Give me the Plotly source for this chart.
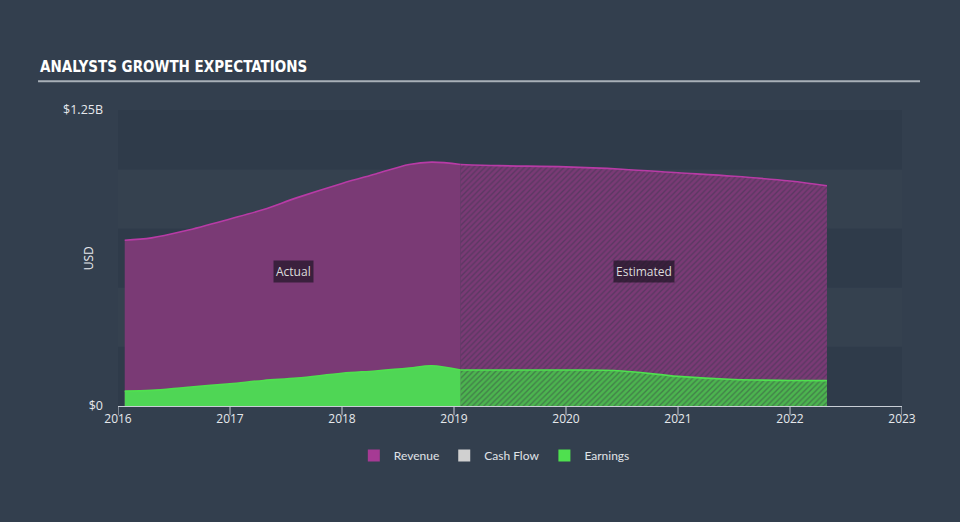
import plotly.graph_objects as go

actual_x = [2016.06, 2016.3, 2016.6, 2017.0, 2017.3, 2017.6, 2018.0, 2018.3, 2018.6, 2018.8, 2019.06]
revenue_actual = [0.70, 0.71, 0.74, 0.79, 0.83, 0.88, 0.94, 0.98, 1.02, 1.03, 1.02]
earnings_actual = [0.063, 0.066, 0.078, 0.094, 0.108, 0.118, 0.138, 0.148, 0.160, 0.170, 0.152]

est_x = [2019.06, 2019.4, 2020.0, 2020.5, 2021.0, 2021.5, 2022.0, 2022.33]
revenue_est = [1.02, 1.015, 1.01, 1.0, 0.985, 0.97, 0.95, 0.93]
earnings_est = [0.152, 0.152, 0.152, 0.148, 0.125, 0.112, 0.108, 0.107]

year_ticks = [2016, 2017, 2018, 2019, 2020, 2021, 2022, 2023]
y_ticks = [0, 1.25]
y_tick_labels = ["$0", "$1.25B"]

legend_names = ["Revenue", "Cash Flow", "Earnings"]
legend_colors = ["#a63a94", "#d0d0d0", "#4fe04f"]

BG = "#333f4e"
REV_FILL = "#7a3a75"
REV_LINE = "#b83ba6"
EARN_FILL = "#4fd655"
EARN_LINE = "#4fe04f"
AXIS = "#c9ced6"
FONT = "Open Sans, sans-serif"

fig = go.Figure()

fig.add_trace(go.Scatter(x=actual_x, y=revenue_actual, mode="lines", line=dict(color=REV_LINE, width=1.6, shape="spline"),
                         fill="tozeroy", fillcolor=REV_FILL, showlegend=False))
fig.add_trace(go.Scatter(x=est_x, y=revenue_est, mode="lines", line=dict(color=REV_LINE, width=1.6, shape="spline"),
                         fill="tozeroy", fillcolor="rgba(0,0,0,0)",
                         fillpattern=dict(shape="/", fgcolor="#3b3650", bgcolor=REV_FILL, size=4, solidity=0.35),
                         showlegend=False))
fig.add_trace(go.Scatter(x=actual_x, y=earnings_actual, mode="lines", line=dict(color=EARN_LINE, width=1.6, shape="spline"),
                         fill="tozeroy", fillcolor=EARN_FILL, showlegend=False))
fig.add_trace(go.Scatter(x=est_x, y=earnings_est, mode="lines", line=dict(color=EARN_LINE, width=1.6, shape="spline"),
                         fill="tozeroy", fillcolor="rgba(0,0,0,0)",
                         fillpattern=dict(shape="/", fgcolor="#384a44", bgcolor="#4cb54f", size=4, solidity=0.35),
                         showlegend=False))

# legend-only entries with square swatches
for name, col in zip(legend_names, legend_colors):
    fig.add_trace(go.Bar(x=[None], y=[None], name=name, marker=dict(color=col, line=dict(width=0)), showlegend=True))

shapes = []
band_edges = [0, 0.25, 0.5, 0.75, 1.0, 1.25]
for i in range(5):
    col = "#2f3b4a" if i % 2 == 0 else "#35414f"
    shapes.append(dict(type="rect", xref="paper", yref="y", x0=0, x1=1, y0=band_edges[i], y1=band_edges[i + 1],
                       fillcolor=col, line=dict(width=0), layer="below"))
# x tick marks
for t in year_ticks:
    shapes.append(dict(type="line", xref="x", yref="paper", x0=t, x1=t, y0=0, y1=-0.031,
                       line=dict(color=AXIS, width=1)))
# title underline
shapes.append(dict(type="line", xref="paper", yref="paper", x0=-0.102, x1=1.023, y0=1.097, y1=1.097,
                   line=dict(color="#a9b0b8", width=2)))

fig.update_layout(
    width=960, height=522,
    paper_bgcolor=BG, plot_bgcolor=BG,
    margin=dict(l=118, r=58, t=110, b=116),
    shapes=shapes,
    showlegend=True,
    barmode="overlay",
    legend=dict(orientation="h", x=0.48, xanchor="center", y=-0.118, yanchor="top",
                font=dict(color="#e0e3e8", size=12, family="Lato, Open Sans, sans-serif"),
                traceorder="normal", itemsizing="constant", bgcolor="rgba(0,0,0,0)"),
    xaxis=dict(range=[2016, 2023], tickvals=year_ticks, ticktext=[str(y) for y in year_ticks],
               showgrid=False, zeroline=False, showline=True, linecolor=AXIS, linewidth=1,
               ticks="outside", tickcolor="rgba(0,0,0,0)", ticklen=2,
               tickfont=dict(color="#e6e8ec", size=12, family=FONT)),
    yaxis=dict(range=[0, 1.25], tickvals=y_ticks, ticktext=y_tick_labels, showgrid=False, zeroline=False,
               showline=False, ticks="", ticklabelstandoff=14,
               tickfont=dict(color="#e6e8ec", size=12.5, family=FONT)),
    annotations=[
        dict(text="<b>ANALYSTS GROWTH EXPECTATIONS</b>", xref="paper", yref="paper", x=-0.102, y=1.145,
             xanchor="left", yanchor="middle", showarrow=False,
             font=dict(color="#ffffff", size=15, family="DejaVu Sans Condensed, Liberation Sans Narrow, sans-serif")),
        dict(text="USD", xref="paper", yref="paper", x=-0.038, y=0.5, textangle=-90, showarrow=False,
             xanchor="center", yanchor="middle", font=dict(color="#e6e8ec", size=12, family=FONT)),
        dict(text="Actual", x=2017.57, y=0.57, xref="x", yref="y", showarrow=False,
             bgcolor="rgba(25,18,30,0.65)", borderpad=2, font=dict(color="#dcdcdc", size=12, family=FONT)),
        dict(text="Estimated", x=2020.7, y=0.57, xref="x", yref="y", showarrow=False,
             bgcolor="rgba(25,18,30,0.65)", borderpad=2, font=dict(color="#dcdcdc", size=12, family=FONT)),
    ],
)

fig.write_html("out.html")
